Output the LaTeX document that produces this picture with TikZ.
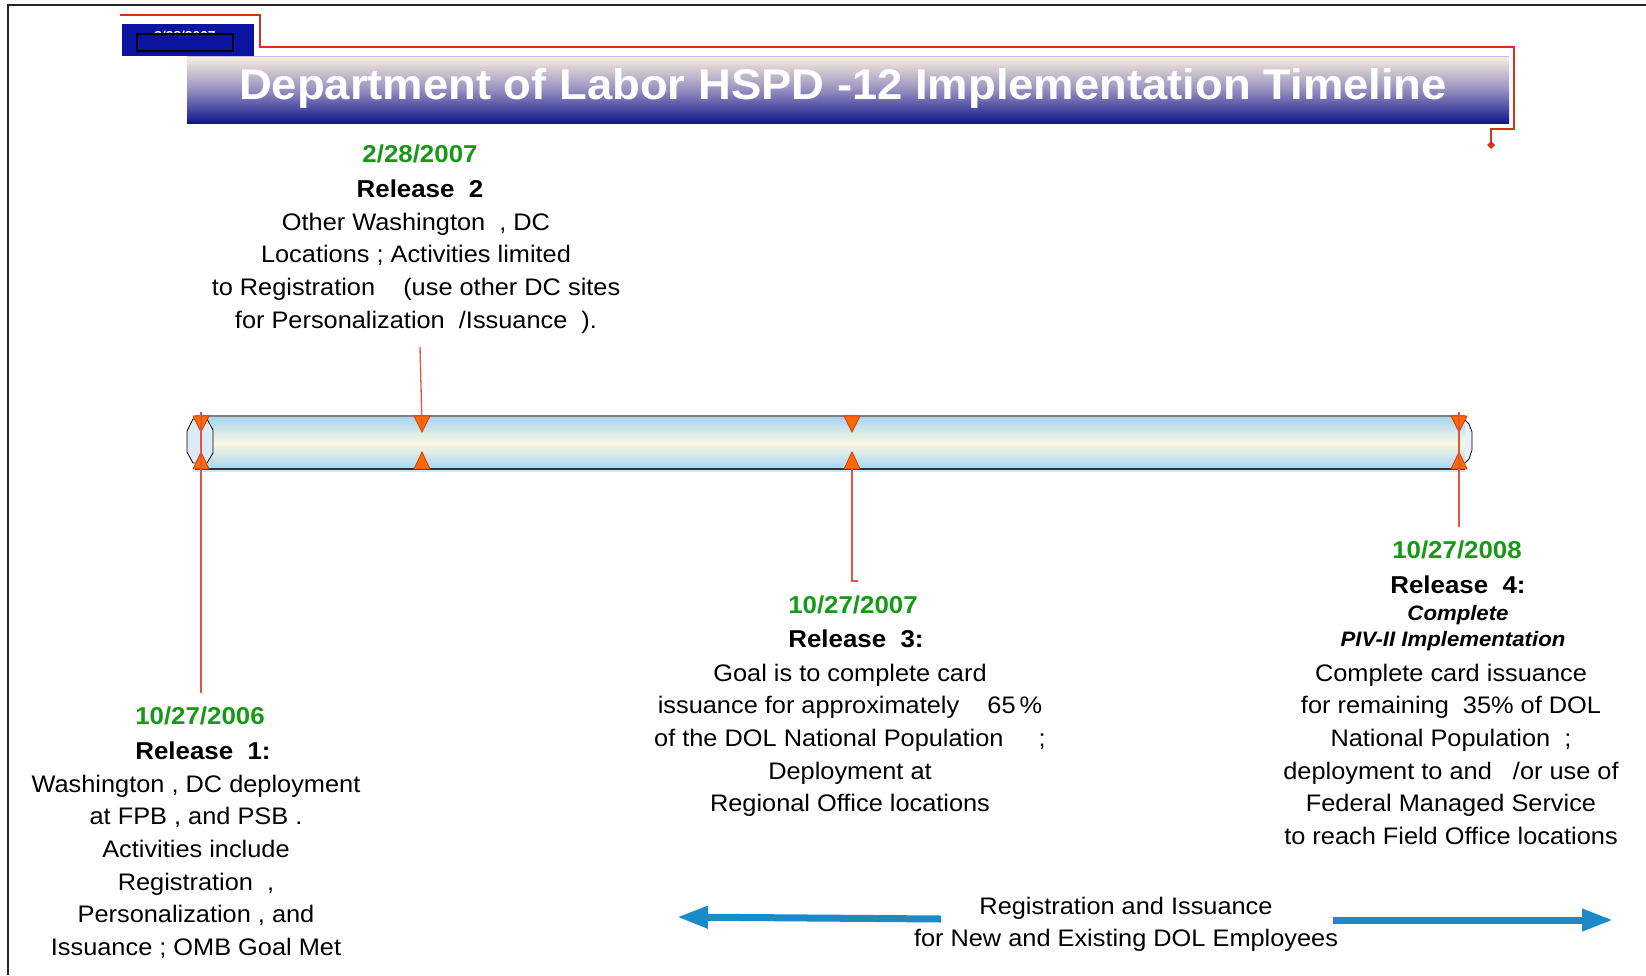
\documentclass[tikz,border=0pt]{standalone}
\usepackage{fontspec}
\setmainfont{Liberation Sans}[FakeStretch=1.06]
\usetikzlibrary{arrows.meta}
\definecolor{dolgreen}{HTML}{169A16}
\definecolor{boxblue}{HTML}{0A14A0}
\definecolor{barcream}{HTML}{FBF0DE}
\definecolor{barmid}{HTML}{9690C0}
\definecolor{barblue}{HTML}{12168E}
\definecolor{calloutred}{HTML}{D2321E}
\definecolor{connred}{HTML}{E4553F}
\definecolor{tubeblue}{HTML}{A8D5F0}
\definecolor{tubecream}{HTML}{FBF8E2}
\definecolor{capblue}{HTML}{DCEBF5}
\definecolor{markfill}{HTML}{FF6A00}
\definecolor{markline}{HTML}{D23A10}
\definecolor{arrowblue}{HTML}{1A8BC8}
\tikzset{
  bodytext/.style={font=\fontsize{24}{32.8}\selectfont, align=center, inner sep=0pt, anchor=north},
  datelbl/.style={font=\fontsize{24.5}{28}\selectfont\bfseries, text=dolgreen, inner sep=0pt},
  rellbl/.style={font=\fontsize{24.5}{28}\selectfont\bfseries, inner sep=0pt},
  itlbl/.style={font=\fontsize{21}{24}\selectfont\bfseries\itshape, inner sep=0pt},
  conn/.style={draw=connred, line width=1.3bp},
  callout/.style={draw=calloutred, line width=1.3bp},
  bluearrow/.style={draw=arrowblue, line width=7bp, -{Triangle[length=31bp,width=21bp]}},
  marker/.style={fill=markfill, draw=markline, line width=0.8bp, line join=miter}
}
\begin{document}
\begin{tikzpicture}[x=1bp,y=-1bp]
\useasboundingbox (0,0) rectangle (1646,975);
\fill[white] (0,0) rectangle (1646,975);
% frame
\draw[line width=2bp, black!85] (8,975) -- (8,5) -- (1646,5);

% callout line
\coordinate (cA) at (120,15);
\coordinate (cB) at (260,15);
\coordinate (cC) at (260,47);
\coordinate (cD) at (1514,47);
\coordinate (cE) at (1514,129);
\coordinate (cF) at (1491,129);
\coordinate (cG) at (1491,145);
\draw[callout] (cA) -- (cB) -- (cC) -- (cD) -- (cE) -- (cF) -- (cG);
\fill[calloutred] (1491,141) -- (1495,145) -- (1491,149) -- (1487,145) -- cycle;

% date box
\fill[boxblue] (122,24) rectangle (254,56);
\node[font=\fontsize{13}{13}\selectfont\bfseries, text=white, anchor=base, inner sep=0pt] (boxdate) at (185,40.5) {2/28/2007};
\draw[black, line width=1.5bp, fill=boxblue] (137,34) rectangle (233,51);

% title bar
\shade[top color=barcream, bottom color=barblue, middle color=barmid] (187,56) rectangle (1509,123);
\draw[color=black!20!blue!25, line width=1bp] (187,56.5) -- (1509,56.5);
\node[font=\fontsize{43}{43}\selectfont\bfseries, text=white, inner sep=0pt] (title) at (843,88)
  {Department of Labor HSPD -12 Implementation Timeline};

% tube
\shade[top color=tubeblue, bottom color=tubeblue, middle color=tubecream] (203,417) rectangle (1465,469);
\fill[tubeblue!60] (195,469) rectangle (1465,472);
\filldraw[fill=capblue!70, draw=black, line width=0.8bp] (1465,420) -- (1469,424) -- (1472,432) -- (1472,450) -- (1469,459) -- (1465,463);
\draw[gray, line width=1.8bp] (195,416) -- (1465,416);
\draw[black!80, line width=1.2bp] (195,469) -- (1465,469);
\filldraw[fill=capblue, draw=black, line width=0.8bp] (193,419) -- (207,419) -- (213,430) -- (213,453) -- (207,463) -- (193,463) -- (187,452) -- (187,431) -- cycle;

% markers
\foreach \mx/\nm in {201/m1, 422/m2, 852/m3, 1459/m4}{
  \coordinate (\nm) at (\mx,442);
  \filldraw[marker] (\mx-8,416) -- (\mx+8,416) -- (\mx,432) -- cycle;
  \filldraw[marker] (\mx-8,469) -- (\mx+8,469) -- (\mx,452) -- cycle;
}

% connectors
\coordinate (c1a) at (201,412);
\coordinate (c1b) at (201,693);
\draw[conn] (c1a) -- (c1b);
\coordinate (c2a) at (420,347);
\coordinate (c2b) at (422,426);
\draw[conn] (c2a) -- (c2b);
\coordinate (c3a) at (852,469);
\coordinate (c3b) at (852,581);
\coordinate (c3c) at (858,581);
\draw[conn] (c3a) -- (c3b) -- (c3c);
\coordinate (c4a) at (1459,412);
\coordinate (c4b) at (1459,527);
\draw[conn] (c4a) -- (c4b);

% Release 2
\node[datelbl] (d2) at (420,154) {2/28/2007};
\node[rellbl] (r2) at (420,189) {Release\ \ 2};
\node[bodytext] (b2) at (416,212.5) {Other Washington\ \ , DC\\ Locations ; Activities limited\\ to Registration\ \ \ \ (use other DC sites\\ for Personalization\ \ /Issuance\ \ ).};

% Release 1
\node[datelbl] (d1) at (200,716) {10/27/2006};
\node[rellbl] (r1) at (203,751) {Release\ \ 1:};
\node[bodytext] (b1) at (196,774.5) {Washington , DC deployment\\ at FPB\ , and PSB .\\ Activities include\\ Registration\ \ ,\\ Personalization\ , and\\ Issuance ; OMB Goal Met};

% Release 3
\node[datelbl] (d3) at (853,605) {10/27/2007};
\node[rellbl] (r3) at (856,639) {Release\ \ 3:};
\node[bodytext] (b3) at (850,663.5) {Goal is to complete card\\ issuance for approximately\ \ \ \ 65\,\%\\ of the DOL National Population\ \ \ \ \ ;\\ Deployment at\\ Regional Office locations};

% Release 4
\node[datelbl] (d4) at (1457,550) {10/27/2008};
\node[rellbl] (r4) at (1458,585) {Release\ \ 4:};
\node[itlbl] (i4a) at (1458,615) {Complete};
\node[itlbl] (i4b) at (1453,641.5) {PIV-II Implementation};
\node[bodytext] (b4) at (1451,663.5) {Complete card issuance\\ for remaining\ \ 35\% of DOL\\ National Population\ \ ;\\ deployment to and\ \ \ /or use of\\ Federal Managed Service\\ to reach Field Office locations};

% bottom arrows and text
\node[bodytext] (reg) at (1126,896.5) {Registration and Issuance\\ for New and Existing DOL Employees};
\coordinate (la) at (941,919);
\coordinate (lt) at (677,917);
\draw[bluearrow] (la) -- (lt);
\coordinate (ra) at (1333,920);
\coordinate (rt) at (1613,920);
\draw[bluearrow] (ra) -- (rt);
\end{tikzpicture}
\end{document}
